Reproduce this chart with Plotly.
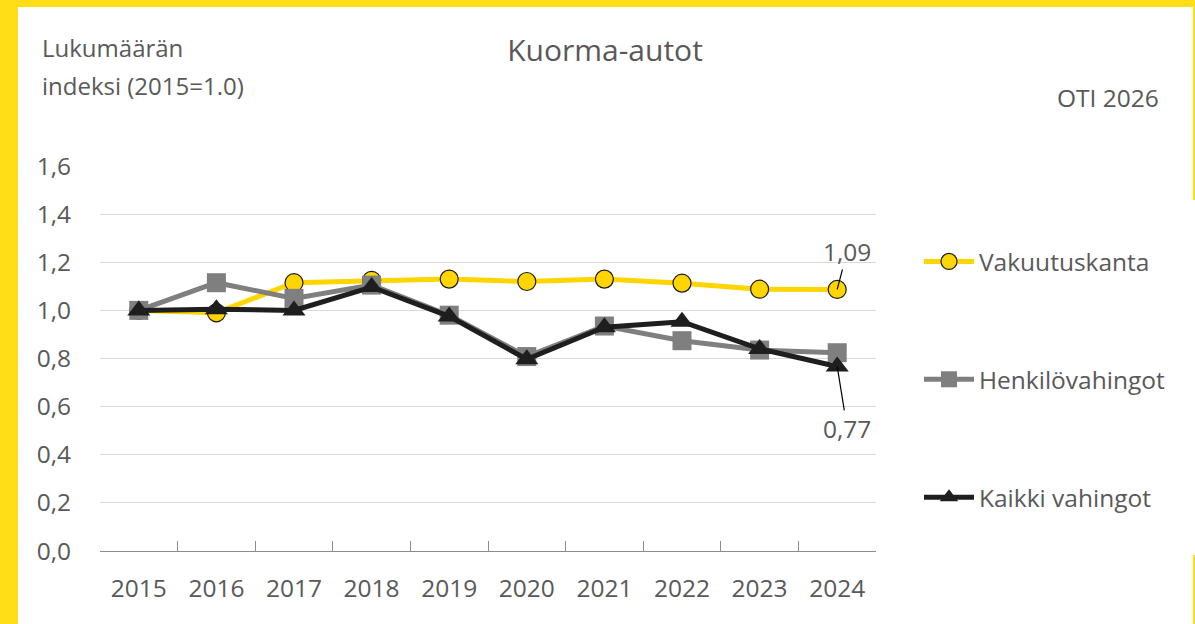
import plotly.graph_objects as go

years = ["2015", "2016", "2017", "2018", "2019", "2020", "2021", "2022", "2023", "2024"]
vakuutuskanta = [1.00, 0.99, 1.115, 1.125, 1.13, 1.12, 1.13, 1.113, 1.088, 1.087]
henkilovahingot = [1.00, 1.115, 1.05, 1.105, 0.98, 0.808, 0.935, 0.874, 0.835, 0.824]
kaikki_vahingot = [1.00, 1.005, 1.00, 1.097, 0.975, 0.797, 0.93, 0.953, 0.84, 0.767]
y_ticks = [0.0, 0.2, 0.4, 0.6, 0.8, 1.0, 1.2, 1.4, 1.6]

YELLOW = "#FFD500"
GRAY = "#7F7F7F"
BLACK = "#1E1E1E"
TEXT = "#595959"
FRAME = "#FFDD17"
FONT = "Open Sans"
FS = 24.5

W, H = 1195, 624
L, R, T, B = 100, 876, 166, 551  # plot area in pixels


def px(x):
    return (x - L) / (R - L)


def py(y):
    return (B - y) / (B - T)


fig = go.Figure()
fig.add_trace(go.Scatter(
    x=years, y=vakuutuskanta, name="Vakuutuskanta", legendgroup="a",
    mode="lines+markers",
    line=dict(color=YELLOW, width=5),
    marker=dict(symbol="circle", size=18, color=YELLOW, line=dict(color="#1a1a1a", width=1.2)),
))
fig.add_trace(go.Scatter(
    x=years, y=henkilovahingot, name="Henkilövahingot", legendgroup="b",
    mode="lines+markers",
    line=dict(color=GRAY, width=5),
    marker=dict(symbol="square", size=19, color=GRAY),
))
fig.add_trace(go.Scatter(
    x=years, y=kaikki_vahingot, name="Kaikki vahingot", legendgroup="c",
    mode="lines+markers",
    line=dict(color=BLACK, width=5),
    marker=dict(symbol="triangle-up", size=20, color=BLACK),
))


def fmt(v):
    return f"{v:.2f}".replace(".", ",")


last = len(years) - 1
annotations = [
    dict(x=last, y=vakuutuskanta[-1], xref="x", yref="y", text=fmt(vakuutuskanta[-1]),
         showarrow=True, arrowhead=0, arrowwidth=1.2, arrowcolor="#000", ax=10, ay=-38, standoff=0,
         font=dict(family=FONT, size=FS, color=TEXT)),
    dict(x=last, y=kaikki_vahingot[-1], xref="x", yref="y", text=fmt(kaikki_vahingot[-1]),
         showarrow=True, arrowhead=0, arrowwidth=1.2, arrowcolor="#000", ax=10, ay=62, standoff=0,
         font=dict(family=FONT, size=FS, color=TEXT)),
    dict(x=px(40), y=py(47), xref="paper", yref="paper", xanchor="left", yanchor="middle",
         text="Lukumäärän", showarrow=False, align="left",
         font=dict(family=FONT, size=24, color=TEXT)),
    dict(x=px(40), y=py(85), xref="paper", yref="paper", xanchor="left", yanchor="middle",
         text="indeksi (2015=1.0)", showarrow=False, align="left",
         font=dict(family=FONT, size=24, color=TEXT)),
    dict(x=px(1161), y=py(97), xref="paper", yref="paper", xanchor="right", yanchor="middle",
         text="OTI 2026", showarrow=False,
         font=dict(family=FONT, size=24.5, color=TEXT)),
]

shapes = [
    dict(type="rect", xref="paper", yref="paper", x0=px(0), x1=px(18), y0=py(0), y1=py(H),
         fillcolor=FRAME, line=dict(width=0), layer="above"),
    dict(type="rect", xref="paper", yref="paper", x0=px(0), x1=px(W), y0=py(0), y1=py(7),
         fillcolor=FRAME, line=dict(width=0), layer="above"),
    dict(type="rect", xref="paper", yref="paper", x0=px(1193), x1=px(W), y0=py(0), y1=py(200),
         fillcolor=FRAME, line=dict(width=0), layer="above"),
    dict(type="rect", xref="paper", yref="paper", x0=px(1193), x1=px(W), y0=py(555), y1=py(H),
         fillcolor=FRAME, line=dict(width=0), layer="above"),
]

fig.update_layout(
    width=W, height=H,
    margin=dict(l=L, r=W - R, t=T, b=H - B),
    paper_bgcolor="white", plot_bgcolor="white",
    separators=", ",
    font=dict(family=FONT, size=FS, color=TEXT),
    title=dict(text="Kuorma-autot", x=605 / W, xref="container", xanchor="center",
               y=1 - 50 / H, yref="container", yanchor="middle",
               font=dict(family=FONT, size=30, color=TEXT)),
    showlegend=True,
    legend=dict(x=px(919), y=py(239), xanchor="left", yanchor="top",
                tracegroupgap=83, itemwidth=50, font=dict(family=FONT, size=FS, color=TEXT),
                bgcolor="rgba(0,0,0,0)"),
    annotations=annotations,
    shapes=shapes,
)
fig.update_xaxes(
    type="category", range=[-0.5, 9.5],
    showline=True, linecolor="#8C8C8C", linewidth=1.3,
    ticks="inside", tickson="boundaries", ticklen=10, tickcolor="#8C8C8C", tickwidth=1.3,
    showgrid=False, ticklabelstandoff=15,
    tickfont=dict(family=FONT, size=FS, color=TEXT),
)
fig.update_yaxes(
    range=[0, 1.6], tickvals=y_ticks, tickformat=".1f",
    showgrid=True, gridcolor="#D9D9D9", gridwidth=1.3,
    zeroline=False, showline=False, ticks="", ticklabelstandoff=28,
    tickfont=dict(family=FONT, size=FS, color=TEXT),
)

fig.write_html("out.html", config={"displayModeBar": False},
               post_script="document.body.style.margin='0';document.body.style.padding='0';")
